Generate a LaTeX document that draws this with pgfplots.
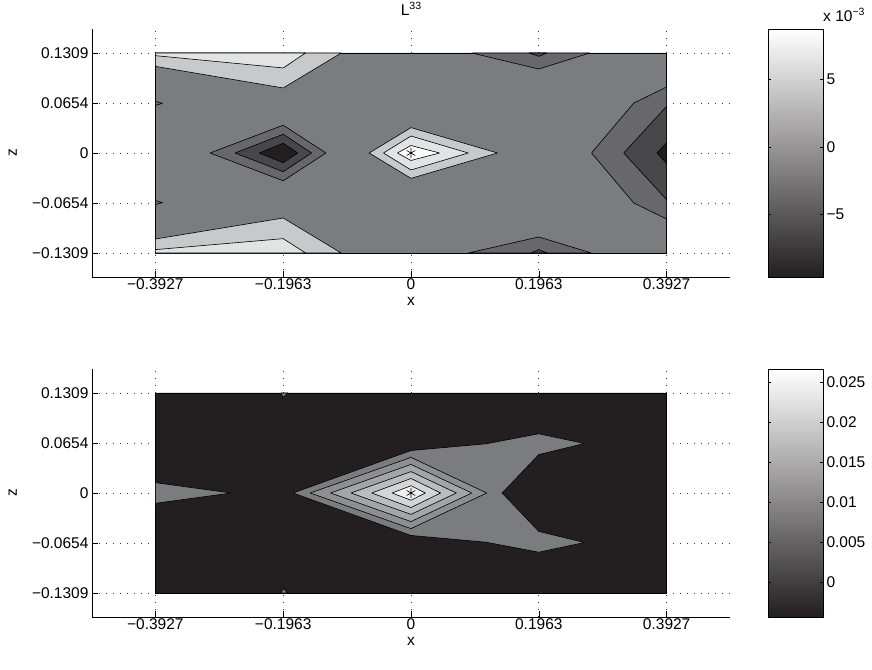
\documentclass[border=0pt]{standalone}
\usepackage{pgfplots}
\pgfplotsset{compat=1.18}
\usepackage{fontspec}
\setmainfont{Liberation Sans}
\definecolor{cA}{RGB}{35,31,32}
\definecolor{cB}{RGB}{72,72,75}
\definecolor{cC}{RGB}{104,104,108}
\definecolor{cD}{RGB}{123,124,128}
\definecolor{cE}{RGB}{200,201,203}
\definecolor{cF}{RGB}{226,227,228}
\definecolor{cG}{RGB}{252,252,252}
\definecolor{dA}{RGB}{142,143,146}
\definecolor{dB}{RGB}{164,165,168}
\definecolor{dC}{RGB}{187,188,190}
\definecolor{dD}{RGB}{212,213,214}
\definecolor{dE}{RGB}{240,240,240}
\pgfplotsset{
  tick label style={font=\fontsize{15.5}{18}\selectfont},
  label style={font=\fontsize{15.5}{18}\selectfont},
  mainax/.style={
    scale only axis, width=638pt, height=248pt, anchor=south west,
    xmin=-0.49, xmax=0.49, ymin=-0.1623, ymax=0.1623,
    axis x line*=bottom, axis y line*=left,
    tick align=inside, major tick length=6pt,
    xtick={-0.3927,-0.1963,0,0.1963,0.3927},
    xticklabels={−0.3927,−0.1963,0,0.1963,0.3927},
    ytick={-0.1309,-0.0654,0,0.0654,0.1309},
    yticklabels={−0.1309,−0.0654,0,0.0654,0.1309},
    xticklabel style={yshift=2pt},
    grid=major, grid style={black!80, line width=0.6pt, dash pattern=on 0.6pt off 6.4pt},
    tick style={black, line width=0.5pt},
    axis line style={black, line width=0.6pt},
    xlabel={x}, ylabel={z},
    xlabel style={at={(axis description cs:0.5,-0.097)}, anchor=center},
    ylabel style={at={(axis description cs:-0.124,0.5)}, anchor=center},
  },
  cbax/.style={
    scale only axis, width=55pt, height=248pt, anchor=south west,
    xmin=0, xmax=1, xtick=\empty,
    tick align=inside, ytick pos=both, yticklabel pos=right,
    major tick length=3pt, tick style={black, line width=0.5pt},
    axis line style={black, line width=0.6pt}, scaled y ticks=false,
    axis on top,
  },
  cont/.style={draw=black, line width=0.6pt, line join=round},
}
\begin{document}
\begin{tikzpicture}[x=1pt,y=1pt]
\useasboundingbox (0,0) rectangle (872,669);
\begin{axis}[mainax, at={(92pt,392pt)}]
\addplot[cont, fill=cD] coordinates {(-0.3927,-0.1309)(0.3927,-0.1309)(0.3927,0.1309)(-0.3927,0.1309)(-0.3927,-0.1309)};
% upper left
\addplot[cont, fill=cE] coordinates {(-0.3927,0.1309)(-0.1071,0.1309)(-0.1963,0.0851)(-0.3927,0.1134)(-0.3927,0.1309)};
\addplot[cont, fill=cF] coordinates {(-0.3927,0.1309)(-0.162,0.1309)(-0.1963,0.1113)(-0.3927,0.1274)(-0.3927,0.1309)};
% lower left
\addplot[cont, fill=cE] coordinates {(-0.3927,-0.1309)(-0.1071,-0.1309)(-0.1963,-0.0851)(-0.3927,-0.1126)(-0.3927,-0.1309)};
\addplot[cont, fill=cF] coordinates {(-0.3927,-0.1309)(-0.162,-0.1309)(-0.1963,-0.1121)(-0.3927,-0.1265)(-0.3927,-0.1309)};
% upper right / lower right small
\addplot[cont, fill=cC] coordinates {(0.0934,0.1309)(0.2746,0.1309)(0.1963,0.1099)(0.0934,0.1309)};
\addplot[cont, fill=cB] coordinates {(0.181,0.1309)(0.209,0.1309)(0.1963,0.1265)(0.181,0.1309)};
\addplot[cont, fill=cC] coordinates {(0.088,-0.1309)(0.277,-0.1309)(0.1963,-0.1099)(0.088,-0.1309)};
\addplot[cont, fill=cB] coordinates {(0.184,-0.1309)(0.209,-0.1309)(0.1963,-0.1265)(0.184,-0.1309)};
% tiny left
\addplot[cont, fill=cC] coordinates {(-0.3927,0.0676)(-0.3817,0.0650)(-0.3927,0.0622)(-0.3927,0.0676)};
\addplot[cont, fill=cC] coordinates {(-0.3927,-0.0622)(-0.3817,-0.0650)(-0.3927,-0.0676)(-0.3927,-0.0622)};
% left diamond
\addplot[cont, fill=cC] coordinates {(-0.3087,0)(-0.1963,0.0364)(-0.1307,0)(-0.1963,-0.0364)(-0.3087,0)};
\addplot[cont, fill=cB] coordinates {(-0.2702,0)(-0.1963,0.0245)(-0.1527,0)(-0.1963,-0.0245)(-0.2702,0)};
\addplot[cont, fill=cA] coordinates {(-0.2334,0)(-0.1963,0.0127)(-0.1741,0)(-0.1963,-0.0127)(-0.2334,0)};
% centre diamond
\addplot[cont, fill=cE] coordinates {(-0.0643,0)(0,0.0332)(0.1329,0)(0,-0.0332)(-0.0643,0)};
\addplot[cont, fill=cF] coordinates {(-0.0423,0)(0,0.0222)(0.0879,0)(0,-0.0222)(-0.0423,0)};
\addplot[cont, fill=cG] coordinates {(-0.0209,0)(0,0.0098)(0.0439,0)(0,-0.0098)(-0.0209,0)};
% right
\addplot[cont, fill=cC] coordinates {(0.3927,0.0864)(0.3422,0.0654)(0.2773,0)(0.3422,-0.0654)(0.3927,-0.0864)(0.3927,0.0864)};
\addplot[cont, fill=cB] coordinates {(0.3927,0.0611)(0.3268,0)(0.3927,-0.0611)(0.3927,0.0611)};
\addplot[cont, fill=cA] coordinates {(0.3927,0.0135)(0.3778,0)(0.3927,-0.0135)(0.3927,0.0135)};
\addplot[only marks, mark=asterisk, mark size=5pt, mark options={line width=0.6pt}, black] coordinates {(0,0)};
\end{axis}
\begin{axis}[cbax, at={(768pt,392pt)}, ymin=-9.63, ymax=8.74,
  ytick={-5,0,5}, yticklabels={−5,0,5}]
\addplot[draw=none, bottom color=cA, top color=white] coordinates {(0,-9.63)(1,-9.63)(1,8.74)(0,8.74)(0,-9.63)};
\end{axis}
\node[anchor=base] at (411,653) {\fontsize{15.5}{18}\selectfont L\raisebox{0.45em}{\fontsize{10.5}{11}\selectfont 33}};
\node[anchor=base west, inner sep=0pt] at (823,647) {\fontsize{15.5}{18}\selectfont x 10\raisebox{0.45em}{\fontsize{10.5}{11}\selectfont −3}};
\begin{axis}[mainax, at={(92pt,52pt)}]
\addplot[cont, fill=cA] coordinates {(-0.3927,-0.1309)(0.3927,-0.1309)(0.3927,0.1309)(-0.3927,0.1309)(-0.3927,-0.1309)};
\addplot[cont, fill=cD] coordinates {(-0.1812,0)(0,0.0556)(0.1153,0.0644)(0.1963,0.0775)(0.2664,0.0648)(0.1963,0.0503)(0.14,0)(0.1963,-0.0503)(0.2664,-0.0648)(0.1963,-0.0775)(0.1153,-0.0644)(0,-0.0556)(-0.1812,0)};
\addplot[cont, fill=cD] coordinates {(-0.3927,0.0135)(-0.2757,0)(-0.3927,-0.0135)(-0.3927,0.0135)};
\addplot[cont, fill=cD] coordinates {(-0.2,0.1309)(-0.189,0.1309)(-0.1963,0.1252)(-0.2,0.1309)};
\addplot[cont, fill=cD] coordinates {(-0.2,-0.1309)(-0.189,-0.1309)(-0.1963,-0.1252)(-0.2,-0.1309)};
\addplot[cont, fill=dA] coordinates {(-0.1549,0)(0,0.0466)(0.1164,0)(0,-0.0466)(-0.1549,0)};
\addplot[cont, fill=dB] coordinates {(-0.1236,0)(0,0.0374)(0.0934,0)(0,-0.0374)(-0.1236,0)};
\addplot[cont, fill=dC] coordinates {(-0.0923,0)(0,0.0280)(0.0697,0)(0,-0.0280)(-0.0923,0)};
\addplot[cont, fill=dD] coordinates {(-0.0604,0)(0,0.0190)(0.0456,0)(0,-0.0190)(-0.0604,0)};
\addplot[cont, fill=dE] coordinates {(-0.0291,0)(0,0.0095)(0.0220,0)(0,-0.0095)(-0.0291,0)};
\addplot[only marks, mark=asterisk, mark size=5pt, mark options={line width=0.6pt}, black] coordinates {(0,0)};
\end{axis}
\begin{axis}[cbax, at={(768pt,52pt)}, ymin=-0.0044, ymax=0.0267,
  ytick={0,0.005,0.01,0.015,0.02,0.025}, yticklabels={0,0.005,0.01,0.015,0.02,0.025}]
\addplot[draw=none, bottom color=cA, top color=white] coordinates {(0,-0.0044)(1,-0.0044)(1,0.0267)(0,0.0267)(0,-0.0044)};
\end{axis}
\end{tikzpicture}
\end{document}
